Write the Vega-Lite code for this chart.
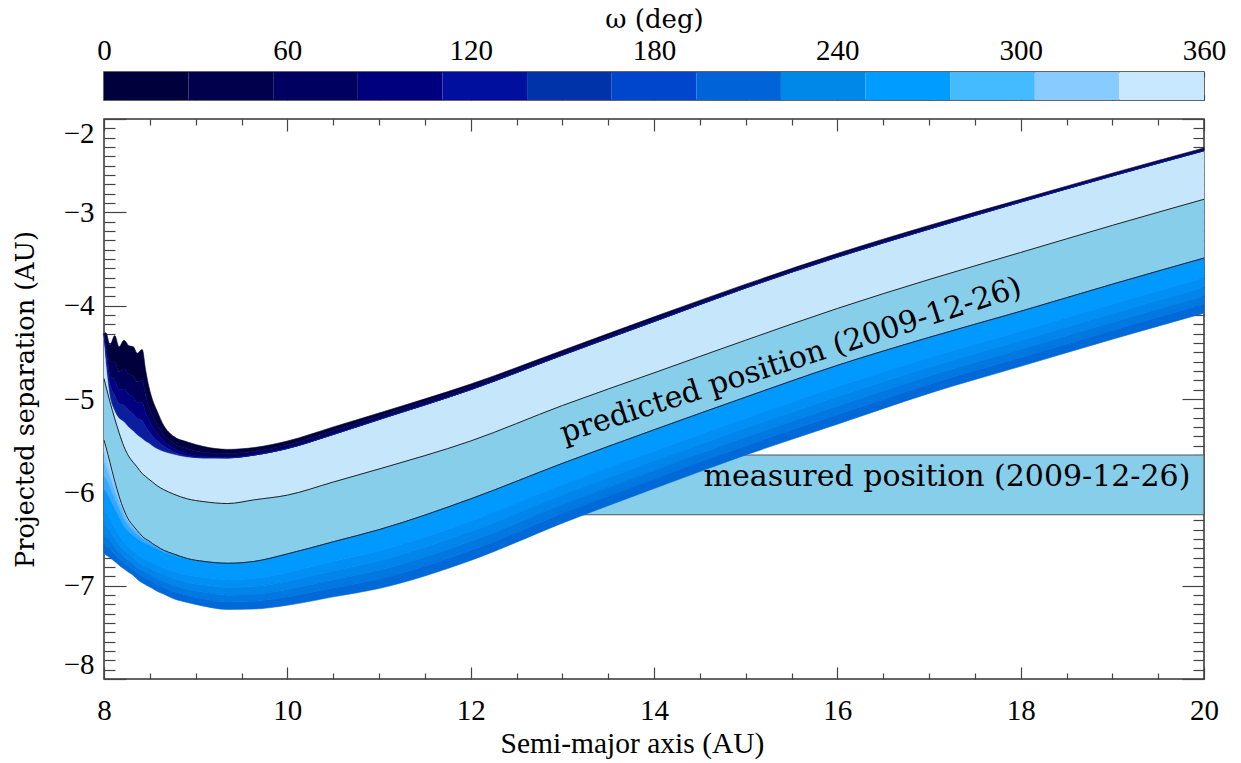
{
  "$schema": "https://vega.github.io/schema/vega-lite/v6.json",
  "background": "white",
  "padding": {"left": 12, "top": 5, "right": 10, "bottom": 2},
  "spacing": 11,
  "config": {
    "view": {"stroke": "#333", "strokeWidth": 1.5},
    "area": {"interpolate": "monotone"},
    "line": {"interpolate": "monotone"},
    "axis": {
      "domain": false, "grid": false, "tickSize": 0,
      "labelFont": "Liberation Serif", "labelFontSize": 29, "labelColor": "#000",
      "titleFont": "Liberation Serif", "titleFontSize": 29, "titleFontWeight": "normal", "titleColor": "#000",
      "tickColor": "#444", "tickWidth": 1.2, "labelOverlap": false, "labelBound": false
    }
  },
  "datasets": {
    "curves": [
      {"a": 8.0, "T": -4.30, "d1": -4.30, "d2": -4.30, "d3": -4.30, "D": -4.30, "U": -4.78, "L": -5.44, "p1": -5.561, "p2": -5.682, "p3": -5.827, "p4": -5.972, "p5": -6.190, "p6": -6.335, "p7": -6.456, "p8": -6.553, "B": -6.65},
      {"a": 8.02, "T": -4.29, "d1": -4.381, "d2": -4.446, "d3": -4.498, "D": -4.55, "U": -4.86, "L": -5.51, "p1": -5.614, "p2": -5.730, "p3": -5.858, "p4": -5.997, "p5": -6.218, "p6": -6.357, "p7": -6.473, "p8": -6.571, "B": -6.67},
      {"a": 8.065, "T": -4.42, "d1": -4.606, "d2": -4.738, "d3": -4.844, "D": -4.95, "U": -5.03, "L": -5.68, "p1": -5.757, "p2": -5.843, "p3": -5.955, "p4": -6.078, "p5": -6.282, "p6": -6.414, "p7": -6.516, "p8": -6.608, "B": -6.70},
      {"a": 8.117, "T": -4.32, "d1": -4.60, "d2": -4.80, "d3": -4.96, "D": -5.12, "U": -5.21, "L": -5.88, "p1": -5.927, "p2": -5.992, "p3": -6.078, "p4": -6.181, "p5": -6.379, "p6": -6.491, "p7": -6.585, "p8": -6.663, "B": -6.74},
      {"a": 8.164, "T": -4.44, "d1": -4.706, "d2": -4.896, "d3": -5.048, "D": -5.20, "U": -5.36, "L": -6.04, "p1": -6.070, "p2": -6.114, "p3": -6.181, "p4": -6.269, "p5": -6.454, "p6": -6.558, "p7": -6.639, "p8": -6.710, "B": -6.78},
      {"a": 8.218, "T": -4.37, "d1": -4.675, "d2": -4.892, "d3": -5.066, "D": -5.24, "U": -5.51, "L": -6.19, "p1": -6.209, "p2": -6.240, "p3": -6.291, "p4": -6.366, "p5": -6.530, "p6": -6.612, "p7": -6.688, "p8": -6.757, "B": -6.82},
      {"a": 8.273, "T": -4.43, "d1": -4.735, "d2": -4.952, "d3": -5.126, "D": -5.30, "U": -5.62, "L": -6.30, "p1": -6.308, "p2": -6.328, "p3": -6.367, "p4": -6.429, "p5": -6.586, "p6": -6.664, "p7": -6.737, "p8": -6.798, "B": -6.86},
      {"a": 8.32, "T": -4.44, "d1": -4.755, "d2": -4.98, "d3": -5.16, "D": -5.34, "U": -5.68, "L": -6.36, "p1": -6.365, "p2": -6.381, "p3": -6.413, "p4": -6.466, "p5": -6.625, "p6": -6.699, "p7": -6.768, "p8": -6.829, "B": -6.89},
      {"a": 8.362, "T": -4.51, "d1": -4.815, "d2": -5.032, "d3": -5.206, "D": -5.38, "U": -5.73, "L": -6.41, "p1": -6.413, "p2": -6.423, "p3": -6.452, "p4": -6.498, "p5": -6.660, "p6": -6.738, "p7": -6.805, "p8": -6.868, "B": -6.93},
      {"a": 8.417, "T": -4.47, "d1": -4.80, "d2": -5.04, "d3": -5.23, "D": -5.42, "U": -5.80, "L": -6.47, "p1": -6.470, "p2": -6.475, "p3": -6.495, "p4": -6.535, "p5": -6.700, "p6": -6.770, "p7": -6.835, "p8": -6.900, "B": -6.97},
      {"a": 8.454, "T": -4.69, "d1": -4.956, "d2": -5.146, "d3": -5.298, "D": -5.45, "U": -5.83, "L": -6.50, "p1": -6.500, "p2": -6.502, "p3": -6.520, "p4": -6.554, "p5": -6.721, "p6": -6.794, "p7": -6.858, "p8": -6.921, "B": -6.99},
      {"a": 8.49, "T": -4.87, "d1": -5.08, "d2": -5.23, "d3": -5.35, "D": -5.47, "U": -5.86, "L": -6.52, "p1": -6.520, "p2": -6.520, "p3": -6.535, "p4": -6.564, "p5": -6.731, "p6": -6.804, "p7": -6.873, "p8": -6.939, "B": -7.01},
      {"a": 8.53, "T": -5.01, "d1": -5.18, "d2": -5.30, "d3": -5.40, "D": -5.50, "U": -5.89, "L": -6.55, "p1": -6.550, "p2": -6.550, "p3": -6.560, "p4": -6.588, "p5": -6.752, "p6": -6.828, "p7": -6.896, "p8": -6.960, "B": -7.03},
      {"a": 8.58, "T": -5.13, "d1": -5.27, "d2": -5.37, "d3": -5.45, "D": -5.53, "U": -5.93, "L": -6.58, "p1": -6.580, "p2": -6.580, "p3": -6.587, "p4": -6.611, "p5": -6.777, "p6": -6.854, "p7": -6.921, "p8": -6.988, "B": -7.06},
      {"a": 8.65, "T": -5.28, "d1": -5.378, "d2": -5.448, "d3": -5.504, "D": -5.56, "U": -5.97, "L": -6.62, "p1": -6.620, "p2": -6.620, "p3": -6.625, "p4": -6.644, "p5": -6.808, "p6": -6.879, "p7": -6.949, "p8": -7.020, "B": -7.09},
      {"a": 8.76, "T": -5.40, "d1": -5.476, "d2": -5.533, "d3": -5.567, "D": -5.59, "U": -6.02, "L": -6.66, "p1": -6.660, "p2": -6.660, "p3": -6.660, "p4": -6.674, "p5": -6.847, "p6": -6.924, "p7": -6.996, "p8": -7.066, "B": -7.14},
      {"a": 8.91, "T": -5.46, "d1": -5.532, "d2": -5.588, "d3": -5.612, "D": -5.62, "U": -6.07, "L": -6.71, "p1": -6.710, "p2": -6.710, "p3": -6.710, "p4": -6.717, "p5": -6.886, "p6": -6.966, "p7": -7.039, "p8": -7.107, "B": -7.18},
      {"a": 9.09, "T": -5.51, "d1": -5.57, "d2": -5.618, "d3": -5.63, "D": -5.63, "U": -6.10, "L": -6.74, "p1": -6.74, "p2": -6.74, "p3": -6.74, "p4": -6.74, "p5": -6.913, "p6": -6.994, "p7": -7.071, "p8": -7.143, "B": -7.22},
      {"a": 9.35, "T": -5.54, "d1": -5.585, "d2": -5.63, "d3": -5.63, "D": -5.63, "U": -6.12, "L": -6.76, "p1": -6.76, "p2": -6.76, "p3": -6.76, "p4": -6.76, "p5": -6.938, "p6": -7.022, "p7": -7.102, "p8": -7.176, "B": -7.255},
      {"a": 9.64, "T": -5.52, "d1": -5.56, "d2": -5.60, "d3": -5.60, "D": -5.60, "U": -6.08, "L": -6.74, "p1": -6.74, "p2": -6.74, "p3": -6.74, "p4": -6.74, "p5": -6.924, "p6": -7.010, "p7": -7.092, "p8": -7.168, "B": -7.25},
      {"a": 10, "T": -5.45, "d1": -5.49, "d2": -5.53, "d3": -5.53, "D": -5.53, "U": -6.03, "L": -6.66, "p1": -6.66, "p2": -6.66, "p3": -6.66, "p4": -6.66, "p5": -6.858, "p6": -6.952, "p7": -7.040, "p8": -7.122, "B": -7.21},
      {"a": 10.5, "T": -5.30, "d1": -5.34, "d2": -5.38, "d3": -5.38, "D": -5.38, "U": -5.89, "L": -6.53, "p1": -6.53, "p2": -6.53, "p3": -6.53, "p4": -6.53, "p5": -6.742, "p6": -6.843, "p7": -6.937, "p8": -7.026, "B": -7.12},
      {"a": 11, "T": -5.15, "d1": -5.185, "d2": -5.22, "d3": -5.22, "D": -5.22, "U": -5.75, "L": -6.40, "p1": -6.40, "p2": -6.40, "p3": -6.40, "p4": -6.40, "p5": -6.627, "p6": -6.734, "p7": -6.835, "p8": -6.929, "B": -7.03},
      {"a": 12, "T": -4.84, "d1": -4.87, "d2": -4.90, "d3": -4.90, "D": -4.90, "U": -5.45, "L": -6.07, "p1": -6.07, "p2": -6.07, "p3": -6.07, "p4": -6.07, "p5": -6.308, "p6": -6.420, "p7": -6.525, "p8": -6.624, "B": -6.73},
      {"a": 13, "T": -4.48, "d1": -4.505, "d2": -4.53, "d3": -4.53, "D": -4.53, "U": -5.07, "L": -5.69, "p1": -5.69, "p2": -5.69, "p3": -5.69, "p4": -5.69, "p5": -5.920, "p6": -6.029, "p7": -6.132, "p8": -6.228, "B": -6.33},
      {"a": 14, "T": -4.12, "d1": -4.145, "d2": -4.17, "d3": -4.17, "D": -4.17, "U": -4.72, "L": -5.33, "p1": -5.33, "p2": -5.33, "p3": -5.33, "p4": -5.33, "p5": -5.557, "p6": -5.664, "p7": -5.765, "p8": -5.859, "B": -5.96},
      {"a": 15, "T": -3.77, "d1": -3.79, "d2": -3.81, "d3": -3.81, "D": -3.81, "U": -4.37, "L": -4.98, "p1": -4.98, "p2": -4.98, "p3": -4.98, "p4": -4.98, "p5": -5.203, "p6": -5.309, "p7": -5.408, "p8": -5.501, "B": -5.60},
      {"a": 16, "T": -3.44, "d1": -3.46, "d2": -3.48, "d3": -3.48, "D": -3.48, "U": -4.03, "L": -4.64, "p1": -4.64, "p2": -4.64, "p3": -4.64, "p4": -4.64, "p5": -4.867, "p6": -4.974, "p7": -5.075, "p8": -5.169, "B": -5.27},
      {"a": 17, "T": -3.14, "d1": -3.16, "d2": -3.18, "d3": -3.18, "D": -3.18, "U": -3.72, "L": -4.34, "p1": -4.34, "p2": -4.34, "p3": -4.34, "p4": -4.34, "p5": -4.556, "p6": -4.658, "p7": -4.754, "p8": -4.844, "B": -4.94},
      {"a": 18, "T": -2.86, "d1": -2.875, "d2": -2.89, "d3": -2.89, "D": -2.89, "U": -3.43, "L": -4.06, "p1": -4.06, "p2": -4.06, "p3": -4.06, "p4": -4.06, "p5": -4.272, "p6": -4.373, "p7": -4.467, "p8": -4.556, "B": -4.65},
      {"a": 19, "T": -2.58, "d1": -2.595, "d2": -2.61, "d3": -2.61, "D": -2.61, "U": -3.14, "L": -3.77, "p1": -3.77, "p2": -3.77, "p3": -3.77, "p4": -3.77, "p5": -3.982, "p6": -4.083, "p7": -4.177, "p8": -4.266, "B": -4.36},
      {"a": 20, "T": -2.31, "d1": -2.325, "d2": -2.34, "d3": -2.34, "D": -2.34, "U": -2.86, "L": -3.49, "p1": -3.49, "p2": -3.49, "p3": -3.49, "p4": -3.49, "p5": -3.702, "p6": -3.803, "p7": -3.897, "p8": -3.986, "B": -4.08}
    ]
  },
  "vconcat": [
    {
      "width": 1100,
      "height": 28,
      "data": {"values": [
        {"seg": 1, "o0": 0, "o1": 27.69},
        {"seg": 2, "o0": 27.69, "o1": 55.38},
        {"seg": 3, "o0": 55.38, "o1": 83.08},
        {"seg": 4, "o0": 83.08, "o1": 110.77},
        {"seg": 5, "o0": 110.77, "o1": 138.46},
        {"seg": 6, "o0": 138.46, "o1": 166.15},
        {"seg": 7, "o0": 166.15, "o1": 193.85},
        {"seg": 8, "o0": 193.85, "o1": 221.54},
        {"seg": 9, "o0": 221.54, "o1": 249.23},
        {"seg": 10, "o0": 249.23, "o1": 276.92},
        {"seg": 11, "o0": 276.92, "o1": 304.62},
        {"seg": 12, "o0": 304.62, "o1": 332.31},
        {"seg": 13, "o0": 332.31, "o1": 360}
      ]},
      "layer": [
        {
          "mark": {"type": "rect"},
          "encoding": {
            "x": {"field": "o0", "type": "quantitative",
              "scale": {"domain": [0, 360], "nice": false, "zero": false},
              "axis": {"orient": "top", "values": [0, 30, 60, 90, 120, 150, 180, 210, 240, 270, 300, 330, 360],
                "labelExpr": "datum.value % 60 === 0 ? datum.label : ''",
                "labelFlush": false, "labelFontSize": 29, "labelPadding": 7,
                "title": "ω (deg)", "titleFont": "DejaVu Serif", "titleFontSize": 26, "titlePadding": 4,
                "encoding": {"ticks": {"y2": {"value": 5}}}}},
            "x2": {"field": "o1"},
            "y": {"datum": 0, "type": "quantitative", "scale": {"domain": [0, 1], "nice": false, "zero": false}, "axis": null},
            "y2": {"datum": 1},
            "color": {"field": "seg", "type": "ordinal", "legend": null,
              "scale": {"domain": [1, 2, 3, 4, 5, 6, 7, 8, 9, 10, 11, 12, 13],
                "range": ["#00003c", "#00004c", "#000060", "#00007f", "#000f9e", "#0033aa", "#0046cc", "#0064d8", "#0088e8", "#009cff", "#44bbff", "#88ccff", "#c8e8ff"]}}
          }
        },
        {
          "mark": {"type": "rect", "opacity": 0},
          "encoding": {
            "x": {"field": "o0", "type": "quantitative",
              "axis": {"orient": "bottom", "values": [0, 30, 60, 90, 120, 150, 180, 210, 240, 270, 300, 330, 360],
                "labels": false, "title": null,
                "encoding": {"ticks": {"y2": {"value": -5}}}}},
            "x2": {"field": "o1"},
            "y": {"datum": 0, "type": "quantitative", "axis": null},
            "y2": {"datum": 1}
          }
        }
      ],
      "resolve": {"axis": {"x": "independent"}}
    },
    {
      "width": 1100,
      "height": 560,
      "layer": [
        {
          "data": {"values": [{"a0": 8, "a1": 20, "hi": -5.6, "lo": -6.24}]},
          "mark": {"type": "rect", "fill": "#87ceeb", "stroke": "#555", "strokeWidth": 1.2},
          "encoding": {
            "x": {"field": "a0", "type": "quantitative",
              "scale": {"domain": [8, 20], "nice": false, "zero": false},
              "axis": {"orient": "bottom", "values": [8, 8.5, 9, 9.5, 10, 10.5, 11, 11.5, 12, 12.5, 13, 13.5, 14, 14.5, 15, 15.5, 16, 16.5, 17, 17.5, 18, 18.5, 19, 19.5, 20],
                "labelExpr": "datum.value % 2 === 0 ? format(datum.value, 'd') : ''",
                "labelFlush": false, "labelPadding": 17,
                "title": "Semi-major axis (AU)", "titleFontSize": 29.5, "titlePadding": 4, "titleX": 528,
                "encoding": {"ticks": {"y2": {"value": {"expr": "datum.value % 2 === 0 ? -12 : -6"}}}}}},
            "x2": {"field": "a1"},
            "y": {"field": "hi", "type": "quantitative",
              "scale": {"domain": [-8, -2], "nice": false, "zero": false},
              "axis": {"orient": "left", "values": [-8, -7.9, -7.8, -7.7, -7.6, -7.5, -7.4, -7.3, -7.2, -7.1, -7, -6.9, -6.8, -6.7, -6.6, -6.5, -6.4, -6.3, -6.2, -6.1, -6, -5.9, -5.8, -5.7, -5.6, -5.5, -5.4, -5.3, -5.2, -5.1, -5, -4.9, -4.8, -4.7, -4.6, -4.5, -4.4, -4.3, -4.2, -4.1, -4, -3.9, -3.8, -3.7, -3.6, -3.5, -3.4, -3.3, -3.2, -3.1, -3, -2.9, -2.8, -2.7, -2.6, -2.5, -2.4, -2.3, -2.2, -2.1, -2],
                "labelExpr": "abs(datum.value - round(datum.value)) < 0.001 ? format(datum.value, 'd') : ''",
                "labelFlush": true, "labelFlushOffset": 0, "labelPadding": 10,
                "title": "Projected separation (AU)", "titleFont": "DejaVu Serif", "titleFontSize": 25.5, "titlePadding": 25,
                "encoding": {"ticks": {"x2": {"value": {"expr": "abs(datum.value - round(datum.value)) < 0.001 ? 22 : 11"}}}}}},
            "y2": {"field": "lo"}
          }
        },
        {
          "data": {"values": [{"a0": 8, "a1": 20, "hi": -5.6, "lo": -6.24}]},
          "mark": {"type": "rect", "opacity": 0},
          "encoding": {
            "x": {"field": "a0", "type": "quantitative",
              "axis": {"orient": "top", "values": [8, 8.5, 9, 9.5, 10, 10.5, 11, 11.5, 12, 12.5, 13, 13.5, 14, 14.5, 15, 15.5, 16, 16.5, 17, 17.5, 18, 18.5, 19, 19.5, 20],
                "labels": false, "title": null,
                "encoding": {"ticks": {"y2": {"value": {"expr": "datum.value % 2 === 0 ? 12 : 6"}}}}}},
            "x2": {"field": "a1"},
            "y": {"field": "hi", "type": "quantitative",
              "axis": {"orient": "right", "values": [-8, -7.9, -7.8, -7.7, -7.6, -7.5, -7.4, -7.3, -7.2, -7.1, -7, -6.9, -6.8, -6.7, -6.6, -6.5, -6.4, -6.3, -6.2, -6.1, -6, -5.9, -5.8, -5.7, -5.6, -5.5, -5.4, -5.3, -5.2, -5.1, -5, -4.9, -4.8, -4.7, -4.6, -4.5, -4.4, -4.3, -4.2, -4.1, -4, -3.9, -3.8, -3.7, -3.6, -3.5, -3.4, -3.3, -3.2, -3.1, -3, -2.9, -2.8, -2.7, -2.6, -2.5, -2.4, -2.3, -2.2, -2.1, -2],
                "labels": false, "title": null,
                "encoding": {"ticks": {"x2": {"value": {"expr": "abs(datum.value - round(datum.value)) < 0.001 ? -22 : -11"}}}}}},
            "y2": {"field": "lo"}
          }
        },
        {"data": {"name": "curves"}, "mark": {"type": "area", "color": "#c6e6fb", "stroke": "#c6e6fb", "strokeWidth": 0.6},
          "encoding": {"x": {"field": "a", "type": "quantitative", "axis": null}, "y": {"field": "D", "type": "quantitative", "axis": null}, "y2": {"field": "U"}}},
        {"data": {"name": "curves"}, "mark": {"type": "area", "color": "#87ceeb", "stroke": "#87ceeb", "strokeWidth": 0.6},
          "encoding": {"x": {"field": "a", "type": "quantitative", "axis": null}, "y": {"field": "U", "type": "quantitative", "axis": null}, "y2": {"field": "L"}}},
        {"data": {"name": "curves"}, "mark": {"type": "area", "color": "#a9dcfd", "stroke": "#a9dcfd", "strokeWidth": 0.6},
          "encoding": {"x": {"field": "a", "type": "quantitative", "axis": null}, "y": {"field": "L", "type": "quantitative", "axis": null}, "y2": {"field": "p1"}}},
        {"data": {"name": "curves"}, "mark": {"type": "area", "color": "#84cbff", "stroke": "#84cbff", "strokeWidth": 0.6},
          "encoding": {"x": {"field": "a", "type": "quantitative", "axis": null}, "y": {"field": "p1", "type": "quantitative", "axis": null}, "y2": {"field": "p2"}}},
        {"data": {"name": "curves"}, "mark": {"type": "area", "color": "#5cb9ff", "stroke": "#5cb9ff", "strokeWidth": 0.6},
          "encoding": {"x": {"field": "a", "type": "quantitative", "axis": null}, "y": {"field": "p2", "type": "quantitative", "axis": null}, "y2": {"field": "p3"}}},
        {"data": {"name": "curves"}, "mark": {"type": "area", "color": "#33a8ff", "stroke": "#33a8ff", "strokeWidth": 0.6},
          "encoding": {"x": {"field": "a", "type": "quantitative", "axis": null}, "y": {"field": "p3", "type": "quantitative", "axis": null}, "y2": {"field": "p4"}}},
        {"data": {"name": "curves"}, "mark": {"type": "area", "color": "#0099ff", "stroke": "#0099ff", "strokeWidth": 0.6},
          "encoding": {"x": {"field": "a", "type": "quantitative", "axis": null}, "y": {"field": "p4", "type": "quantitative", "axis": null}, "y2": {"field": "p5"}}},
        {"data": {"name": "curves"}, "mark": {"type": "area", "color": "#0090f5", "stroke": "#0090f5", "strokeWidth": 0.6},
          "encoding": {"x": {"field": "a", "type": "quantitative", "axis": null}, "y": {"field": "p5", "type": "quantitative", "axis": null}, "y2": {"field": "p6"}}},
        {"data": {"name": "curves"}, "mark": {"type": "area", "color": "#0085ec", "stroke": "#0085ec", "strokeWidth": 0.6},
          "encoding": {"x": {"field": "a", "type": "quantitative", "axis": null}, "y": {"field": "p6", "type": "quantitative", "axis": null}, "y2": {"field": "p7"}}},
        {"data": {"name": "curves"}, "mark": {"type": "area", "color": "#0078e2", "stroke": "#0078e2", "strokeWidth": 0.6},
          "encoding": {"x": {"field": "a", "type": "quantitative", "axis": null}, "y": {"field": "p7", "type": "quantitative", "axis": null}, "y2": {"field": "p8"}}},
        {"data": {"name": "curves"}, "mark": {"type": "area", "color": "#0069d8", "stroke": "#0069d8", "strokeWidth": 0.6},
          "encoding": {"x": {"field": "a", "type": "quantitative", "axis": null}, "y": {"field": "p8", "type": "quantitative", "axis": null}, "y2": {"field": "B"}}},
        {"data": {"name": "curves"}, "mark": {"type": "area", "color": "#00003c", "stroke": "#00003c", "strokeWidth": 0.6},
          "encoding": {"x": {"field": "a", "type": "quantitative", "axis": null}, "y": {"field": "T", "type": "quantitative", "axis": null}, "y2": {"field": "d1"}}},
        {"data": {"name": "curves"}, "mark": {"type": "area", "color": "#000058", "stroke": "#000058", "strokeWidth": 0.6},
          "encoding": {"x": {"field": "a", "type": "quantitative", "axis": null}, "y": {"field": "d1", "type": "quantitative", "axis": null}, "y2": {"field": "d2"}}},
        {"data": {"name": "curves"}, "mark": {"type": "area", "color": "#000080", "stroke": "#000080", "strokeWidth": 0.6},
          "encoding": {"x": {"field": "a", "type": "quantitative", "axis": null}, "y": {"field": "d2", "type": "quantitative", "axis": null}, "y2": {"field": "d3"}}},
        {"data": {"name": "curves"}, "mark": {"type": "area", "color": "#0a1e9e", "stroke": "#0a1e9e", "strokeWidth": 0.6},
          "encoding": {"x": {"field": "a", "type": "quantitative", "axis": null}, "y": {"field": "d3", "type": "quantitative", "axis": null}, "y2": {"field": "D"}}},
        {"data": {"name": "curves"}, "mark": {"type": "line", "color": "#222", "strokeWidth": 1},
          "encoding": {"x": {"field": "a", "type": "quantitative", "axis": null}, "y": {"field": "U", "type": "quantitative", "axis": null}}},
        {"data": {"name": "curves"}, "mark": {"type": "line", "color": "#222", "strokeWidth": 1},
          "encoding": {"x": {"field": "a", "type": "quantitative", "axis": null}, "y": {"field": "L", "type": "quantitative", "axis": null}}},
        {"data": {"values": [{"a": 15.494, "s": -4.588, "t": "predicted position (2009-12-26)"}]},
          "mark": {"type": "text", "font": "DejaVu Serif", "fontSize": 30, "angle": -17.8, "align": "center", "baseline": "middle", "color": "#000"},
          "encoding": {"x": {"field": "a", "type": "quantitative", "axis": null}, "y": {"field": "s", "type": "quantitative", "axis": null}, "text": {"field": "t"}}},
        {"data": {"values": [{"a": 17.196, "s": -5.836, "t": "measured position (2009-12-26)"}]},
          "mark": {"type": "text", "font": "DejaVu Serif", "fontSize": 30, "align": "center", "baseline": "middle", "color": "#000"},
          "encoding": {"x": {"field": "a", "type": "quantitative", "axis": null}, "y": {"field": "s", "type": "quantitative", "axis": null}, "text": {"field": "t"}}}
      ],
      "resolve": {"axis": {"x": "independent", "y": "independent"}}
    }
  ]
}
